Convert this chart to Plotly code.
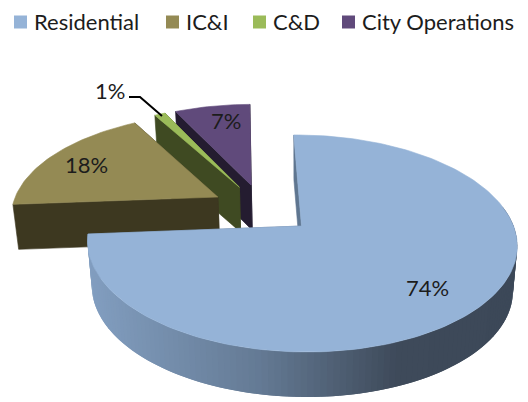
import math
import plotly.graph_objects as go

categories = ["Residential", "IC&I", "C&D", "City Operations"]
shares = [74, 18, 1, 7]
top_colors = ["#95B3D7", "#948A54", "#9BBB59", "#604A7B"]
wall_colors = ["#5F7690", "#3D3820", "#3F4A22", "#241C30"]

W, H = 528, 402
FONT = "Lato, 'Open Sans', sans-serif"
TXT = "#1c1c1c"

# projection of the pie's ground plane to the canvas (pixel-space axes)
OX, OY, BX, AY, K, SHEAR = 301.5, 226.0, 212.0, 105.7, 0.161, 5.5
DEPTH, SHRINK = 45.0, 0.98
START, PULL = -0.7, 0.25


def project(gx, gy, bottom=False):
    s = 1.0 / (1.0 + K * gy)
    x, y = OX + BX * gx * s - SHEAR * gy, OY - AY * gy * s
    if bottom:
        x, y = OX + SHRINK * (x - OX), y + DEPTH
    return x, y


def unit(deg):
    r = math.radians(deg)
    return math.sin(r), math.cos(r)


def mix(stops, t):
    t = max(0.0, min(1.0, t))
    for (a, ca), (b, cb) in zip(stops, stops[1:]):
        if t <= b:
            f = (t - a) / (b - a)
            rgb = [round(ca[i] + (cb[i] - ca[i]) * f) for i in range(3)]
            return "rgb(%d,%d,%d)" % tuple(rgb)
    return "rgb(%d,%d,%d)" % stops[-1][1]


GRAD = [(0.0, (130, 158, 192)), (0.4, (100, 122, 148)), (0.72, (62, 74, 90)), (1.0, (60, 72, 88))]

fig = go.Figure()


def poly(pts, fill, line=None, width=0.6):
    fig.add_trace(go.Scatter(
        x=[p[0] for p in pts] + [pts[0][0]], y=[p[1] for p in pts] + [pts[0][1]],
        mode="lines", fill="toself", fillcolor=fill,
        line=dict(color=line or fill, width=width),
        hoverinfo="skip", showlegend=False))


# slice angular ranges from the data
total = sum(shares)
spans, acc = [], START
for v in shares:
    sweep = 360.0 * v / total
    spans.append((acc, acc + sweep))
    acc += sweep

res_mid = unit(sum(spans[0]) / 2)
centers = {}
for i in [3, 2, 1, 0]:
    a0, a1 = spans[i]
    ux, uy = unit((a0 + a1) / 2)
    px, py = PULL * (ux - res_mid[0]), PULL * (uy - res_mid[1])
    centers[i] = (px, py)
    n = max(3, int((a1 - a0) / 1.5))
    arc = [(px + unit(a0 + (a1 - a0) * j / n)[0], py + unit(a0 + (a1 - a0) * j / n)[1]) for j in range(n + 1)]
    # radial walls
    for gp in (arc[-1], arc[0]):
        poly([project(px, py), project(*gp), project(*gp, bottom=True), project(px, py, bottom=True)], wall_colors[i])
    # outer wall: sections overlap their neighbour so no seams show (right to left)
    for j in range(n):
        p, q = arc[j], arc[min(j + 2, n)]
        if p[1] + arc[j + 1][1] < 0.4:
            quad = [project(*p), project(*q), project(*q, bottom=True), project(*p, bottom=True)]
            mx = (project(*p)[0] + project(*arc[j + 1])[0]) / 2
            col = mix(GRAD, (mx - 88) / 430) if i == 0 else wall_colors[i]
            poly(quad, col, width=0)
    # top face
    poly([project(px, py)] + [project(*p) for p in arc], top_colors[i], top_colors[i])

# leader line of the smallest slice
a0, a1 = spans[2]
mid = unit((a0 + a1) / 2)
tip = project(centers[2][0] + mid[0] * 0.97, centers[2][1] + mid[1] * 0.97)
fig.add_trace(go.Scatter(x=[129, 140, tip[0]], y=[97, 97, tip[1]], mode="lines",
                         line=dict(color="#000000", width=2), hoverinfo="skip", showlegend=False))

# legend row
legend_x = [20.5, 172.5, 259.5, 348.5]
for name, col, lx in zip(categories, top_colors, legend_x):
    fig.add_trace(go.Scatter(x=[lx], y=[22], mode="markers",
                             marker=dict(symbol="square", size=13, color=col), hoverinfo="skip", showlegend=False))
    fig.add_annotation(x=lx + 11, y=21, text=name, showarrow=False, xanchor="left", yanchor="middle",
                       font=dict(family=FONT, size=22, color=TXT))

# data labels
label_pos = [(427, 287), (86, 164.5), (110, 90), (226, 120.5)]
for v, (lx, ly) in zip(shares, label_pos):
    fig.add_annotation(x=lx, y=ly, text=f"{v}%", showarrow=False, xanchor="center", yanchor="middle",
                       font=dict(family=FONT, size=22, color=TXT))

fig.update_layout(width=W, height=H, margin=dict(l=0, r=0, t=0, b=0),
                  paper_bgcolor="white", plot_bgcolor="white", showlegend=False,
                  xaxis=dict(range=[0, W], visible=False, fixedrange=True),
                  yaxis=dict(range=[H, 0], visible=False, fixedrange=True))
fig.write_html("out.html", config={"displayModeBar": False},
               post_script="document.body.style.margin='0';")
